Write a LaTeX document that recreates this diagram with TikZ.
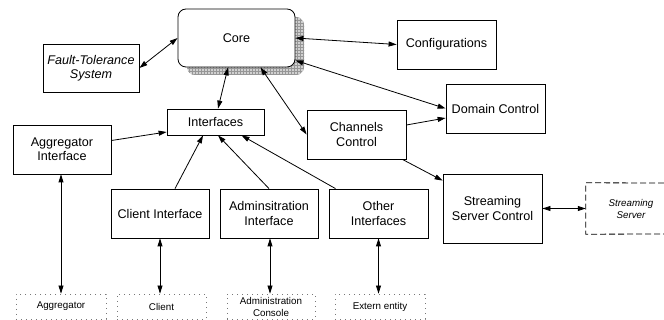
\documentclass[tikz,border=0pt]{standalone}
\usepackage{fontspec}
\setmainfont{Liberation Sans}
\usepackage{xcolor}
\usetikzlibrary{arrows.meta,patterns}
\definecolor{shadowgray}{RGB}{150,150,150}
\definecolor{dotgray}{RGB}{120,120,120}

\tikzset{
  block/.style={draw, line width=0.8pt, fill=white, align=center,
    inner sep=2pt, font=\fontsize{12.6}{14.3}\selectfont},
  extern/.style={draw=dotgray, line width=0.8pt, dash pattern=on 0.8pt off 4.2pt,
    align=center, inner sep=1pt, minimum height=25pt,
    font=\fontsize{9.8}{12}\selectfont},
  link/.style={line width=0.8pt, -{Triangle[length=8pt,width=5pt]}},
  biglink/.style={line width=0.8pt, {Triangle[length=8pt,width=5pt]}-{Triangle[length=8pt,width=5pt]}}
}

\begin{document}
\begin{tikzpicture}[x=1pt, y=-1pt]
      \useasboundingbox (0,0) rectangle (664,320);
      % Core with hatched shadow
      \fill[shadowgray!45, rounded corners=8pt] (187,17) rectangle (304,75);
      \path[pattern=grid, pattern color=shadowgray, rounded corners=8pt] (187,17) rectangle (304,75);
      \node[block, rounded corners=8pt, minimum width=117pt, minimum height=58pt] (core) at (236.5,38) {Core};
      % Boxes round the core
      \node[block, minimum width=96pt, minimum height=48pt,
        font=\fontsize{12.6}{14.3}\selectfont\itshape] (fts) at (91,68) {Fault-Tolerance\\System};
      \node[block, minimum width=99pt, minimum height=49pt] (conf) at (446.5,44.5) {Configurations};
      \node[block, minimum width=99pt, minimum height=49pt] (dom) at (495.5,108.5) {Domain Control};
      \node[block, minimum width=97pt, minimum height=26pt] (intf) at (215.5,122) {Interfaces};
      \node[block, minimum width=99pt, minimum height=49pt] (chan) at (356.5,134.5) {Channels\\Control};
      \node[block, minimum width=98pt, minimum height=49pt] (aggi) at (62,149.5) {Aggregator\\Interface};
      % Interface row
      \node[block, minimum width=98pt, minimum height=49pt] (cli) at (160,213.5) {Client Interface};
      \node[block, minimum width=98pt, minimum height=49pt] (adm) at (269,213.5) {Adminsitration\\Interface};
      \node[block, minimum width=99pt, minimum height=49pt] (oth) at (378.5,213.5) {Other\\Interfaces};
      \node[block, minimum width=99pt, minimum height=69pt] (ssc) at (492.5,208.5) {Streaming\\Server Control};
      % Streaming server, open on the page edge
      \node[align=center, minimum width=90pt, minimum height=51pt,
        font=\fontsize{9.8}{12}\selectfont\itshape] (ss) at (631,208.5) {Streaming\\Server};
      \draw[line width=0.8pt, dash pattern=on 6pt off 3pt]
        (664,183) -- (ss.north west) -- (ss.south west) -- (664,234);
      % Outside entities
      \node[extern, minimum width=90pt] (agg) at (61,306.5) {Aggregator};
      \node[extern, minimum width=89pt] (client) at (161.5,306.5) {Client};
      \node[extern, minimum width=88pt] (admc) at (271,306.5) {Administration\\Console};
      \node[extern, minimum width=90pt] (ext) at (380,306.5) {Extern entity};
      % Links with the core
      \draw[biglink] (fts.east) -- (core.west);
      \draw[biglink] (core.east) -- (conf.west);
      \draw[biglink] ([yshift=7pt]core.south east) -- (dom.west);
      \draw[biglink] ([xshift=-8.5pt]core.south) -- ([xshift=2.5pt]intf.north);
      \draw[biglink] ([xshift=24pt]core.south) -- (chan.west);
      % Links into the interfaces box
      \draw[link] ([yshift=9pt]aggi.east) -- ([yshift=-10pt]intf.west);
      \draw[link] ([xshift=15pt]cli.north) -- ([xshift=-12.5pt]intf.south);
      \draw[link] (adm.north) -- ([xshift=2.5pt]intf.south);
      \draw[link] ([xshift=-43pt]oth.north) -- ([xshift=26pt]intf.south);
      % Channels control links
      \draw[link] ([yshift=9.5pt]chan.east) -- ([yshift=-9.5pt]dom.west);
      \draw[link] ([xshift=-4pt]chan.south east) -- ([yshift=-7pt]ssc.north west);
      \draw[biglink] (ssc.east) -- (ss.west);
      % Down to the outside entities
      \draw[biglink] ([xshift=-1pt]aggi.south) -- ([xshift=-1pt]aggi.south |- agg.north);
      \draw[biglink] (cli.south) -- (cli.south |- client.north);
      \draw[biglink] ([xshift=1pt]adm.south) -- ([xshift=1pt]adm.south |- admc.north);
      \draw[biglink] (oth.south) -- (oth.south |- ext.north);
    \end{tikzpicture}
\end{document}
